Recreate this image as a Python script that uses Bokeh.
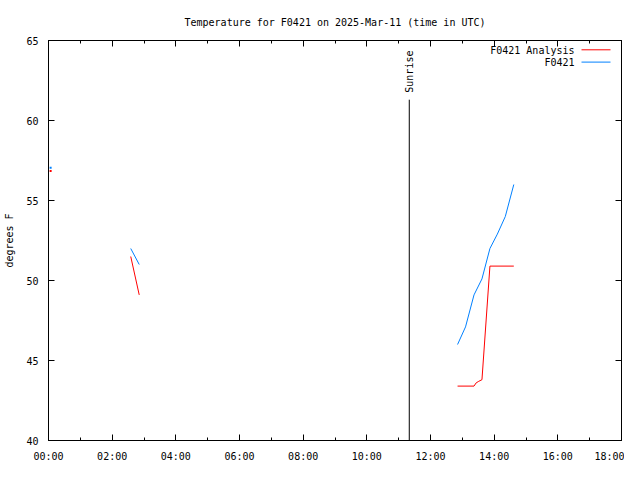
import math
from bokeh.plotting import figure
from bokeh.models import LinearAxis, FixedTicker, Label, Range1d
from bokeh.embed import file_html
from bokeh.resources import INLINE

# ---------------- data ----------------
title_text = "Temperature for F0421 on 2025-Mar-11 (time in UTC)"
y_label = "degrees F"
x_tick_hours = [0, 2, 4, 6, 8, 10, 12, 14, 16, 18]
x_tick_labels = ["00:00", "02:00", "04:00", "06:00", "08:00", "10:00",
                 "12:00", "14:00", "16:00", "18:00"]
x_minor_hours = [1, 3, 5, 7, 9, 11, 13, 15, 17]
y_ticks = [40, 45, 50, 55, 60, 65]

# observed series (F0421); None = gap
obs_times = ["02:35", "02:51", None,
             "12:51", "13:06", "13:22", "13:37", "13:52", "14:06", "14:21", "14:37"]
obs_temps = [52.0, 51.0, None,
             46.0, 47.1, 49.1, 50.1, 52.0, 52.9, 54.0, 56.0]
obs_single_time = ["00:04"]
obs_single_temp = [57.05]

# analysis series (F0421 Analysis)
ana_times = ["02:35", "02:51", None,
             "12:51", "13:22", "13:26", "13:31", "13:37", "13:52", "14:37"]
ana_temps = [51.5, 49.1, None,
             43.4, 43.4, 43.6, 43.7, 43.8, 50.9, 50.9]
ana_single_time = ["00:04"]
ana_single_temp = [56.85]

sunrise_time = "11:20"
sunrise_top = 61.3

legend_names = ["F0421 Analysis", "F0421"]

# ---------------- helpers ----------------
def hrs(t):
    if t is None:
        return float("nan")
    h, m = t.split(":")
    return int(h) + int(m) / 60.0

def num(v):
    return float("nan") if v is None else v

RED = "#ff0000"
BLUE = "#0080ff"
FONT = "DejaVu Sans Mono"

X0, X1, Y0, Y1 = 0, 18, 40, 65
FW, FH = 573, 400  # frame size in px
def px_to_x(px):  # px relative to frame left
    return X0 + px * (X1 - X0) / FW
def py_to_y(py):  # py relative to frame top
    return Y1 - py * (Y1 - Y0) / FH

p = figure(width=624, height=464, output_backend="svg", toolbar_location=None,
           x_range=Range1d(X0, X1), y_range=Range1d(Y0, Y1),
           min_border_left=48, min_border_right=3,
           min_border_top=40, min_border_bottom=24,
           x_axis_type=None, y_axis_type=None)
p.xgrid.visible = False
p.ygrid.visible = False
p.outline_line_color = "black"
p.outline_line_width = 1
p.background_fill_color = "white"
p.border_fill_color = "white"

p.title.text = title_text
p.title.align = "center"
p.title.text_font = FONT
p.title.text_font_size = "10px"
p.title.text_font_style = "normal"
p.title.text_color = "black"
p.title.standoff = 26

def style_axis(ax, labels=True, minor_len=3, line=True):
    ax.axis_line_color = "black" if line else None
    ax.major_tick_line_color = "black"
    ax.minor_tick_line_color = "black"
    ax.major_tick_in = 6
    ax.major_tick_out = 0
    ax.minor_tick_in = minor_len
    ax.minor_tick_out = 0
    ax.major_label_text_font = FONT
    ax.major_label_text_color = "black"
    ax.major_label_text_font_size = "10px"
    ax.major_label_standoff = 10 if labels else 0

overrides = {h: lab for h, lab in zip(x_tick_hours, x_tick_labels)}

# bottom axis (labelled)
xb = LinearAxis(ticker=FixedTicker(ticks=x_tick_hours, minor_ticks=x_minor_hours),
                major_label_overrides=overrides)
style_axis(xb)
p.add_layout(xb, "below")

# top mirror ticks (unlabelled: drawn as minor ticks only)
xa1 = LinearAxis(ticker=FixedTicker(ticks=[], minor_ticks=x_tick_hours))
style_axis(xa1, labels=False, minor_len=6)
p.add_layout(xa1, "above")
xa2 = LinearAxis(ticker=FixedTicker(ticks=[], minor_ticks=x_minor_hours))
style_axis(xa2, labels=False, minor_len=3, line=False)
p.add_layout(xa2, "above")

# left axis (labelled)
yl = LinearAxis(ticker=FixedTicker(ticks=y_ticks, minor_ticks=[]), axis_label=y_label)
style_axis(yl)
yl.axis_label_text_font = FONT
yl.axis_label_text_font_size = "10px"
yl.axis_label_text_font_style = "normal"
yl.axis_label_text_color = "black"
yl.axis_label_standoff = 8
p.add_layout(yl, "left")

# right mirror ticks
yr = LinearAxis(ticker=FixedTicker(ticks=[], minor_ticks=y_ticks))
style_axis(yr, labels=False, minor_len=6)
p.add_layout(yr, "right")

# sunrise marker
sx = hrs(sunrise_time)
p.segment(x0=[sx], y0=[Y0], x1=[sx], y1=[sunrise_top], line_color="black", line_width=1)
p.add_layout(Label(x=sx, y=sunrise_top, text="Sunrise", angle=math.pi / 2,
                   text_align="left", text_baseline="middle", y_offset=7,
                   text_font=FONT, text_font_size="10px", text_color="black"))

# series
p.line([hrs(t) for t in ana_times], [num(v) for v in ana_temps],
       line_color=RED, line_width=1)
p.line([hrs(t) for t in obs_times], [num(v) for v in obs_temps],
       line_color=BLUE, line_width=1)
p.scatter([hrs(t) for t in ana_single_time], ana_single_temp, marker="square",
          size=2, fill_color=RED, line_color=None)
p.scatter([hrs(t) for t in obs_single_time], obs_single_temp, marker="square",
          size=2, fill_color=BLUE, line_color=None)

# legend (gnuplot style: text right-aligned, sample line to the right)
leg_colors = [RED, BLUE]
for i, (name, col) in enumerate(zip(legend_names, leg_colors)):
    py = 10 + 12.3 * i
    p.add_layout(Label(x=px_to_x(526), y=py_to_y(py), text=name,
                       text_align="right", text_baseline="middle",
                       text_font=FONT, text_font_size="10px", text_color="black"))
    p.segment(x0=[px_to_x(533)], y0=[py_to_y(py - 0.7)],
              x1=[px_to_x(562)], y1=[py_to_y(py - 0.7)],
              line_color=col, line_width=1)

open("out.html", "w").write(file_html(p, INLINE))
